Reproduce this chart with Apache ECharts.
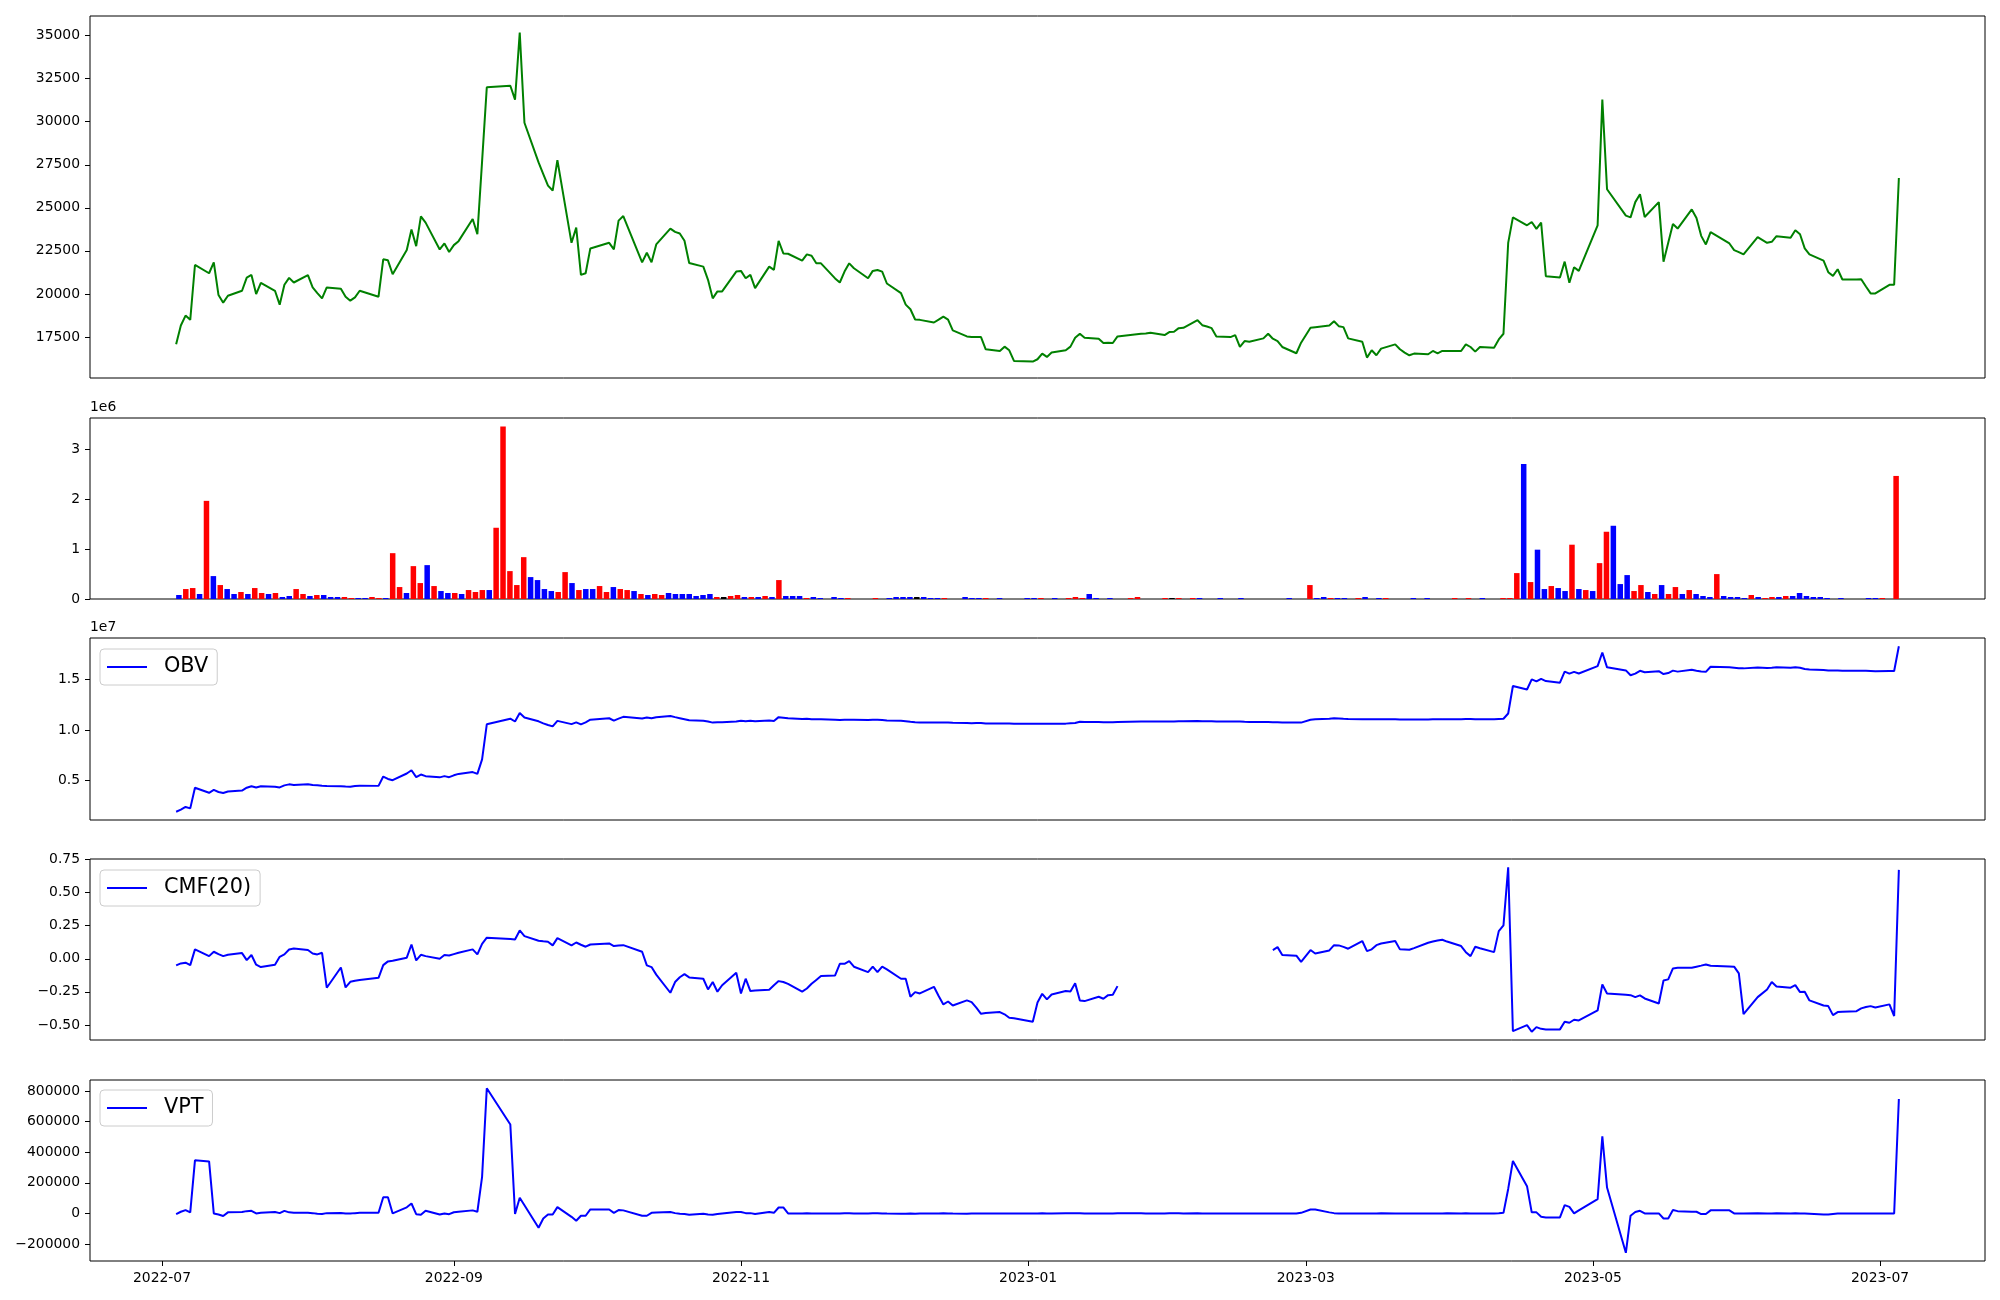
<!DOCTYPE html>
<html><head><meta charset="utf-8">
<script src="https://cdn.jsdelivr.net/npm/echarts@6/dist/echarts.min.js"></script>
<style>html,body{margin:0;padding:0;background:#fff}#c{width:2000px;height:1300px}</style>
</head><body><div id="c"></div>
<script>
// ---------------- data ----------------
const firstDay = '2022-07-04';
const lastDay = '2023-07-05';
const marketHolidays = ['2022-08-15','2022-09-09','2022-09-12','2022-10-03','2022-10-10','2022-12-30',
  '2023-01-23','2023-01-24','2023-03-01','2023-05-01','2023-05-05','2023-05-29','2023-06-06'];
const dateTickLabels = ['2022-07','2022-09','2022-11','2023-01','2023-03','2023-05','2023-07'];
const priceTicks = [17500,20000,22500,25000,27500,30000,32500,35000];
const volumeTicks = [0,1,2,3];          // x 1e6
const obvTicks = [5,10,15];             // millions (labels x 1e7)
const cmfTicks = [-0.5,-0.25,0,0.25,0.5,0.75];
const vptTicks = [-200000,0,200000,400000,600000,800000];

const closePrice = [17071,18166,18742,18493,21681,21200,21835,19933,19492,19895,
20183,20951,21105,19990,20644,20183,19376,20529,20932,20663,
21086,20375,20049,19741,20375,20298,19837,19607,19799,20183,
19837,22008,21950,21143,22546,23737,22777,24505,24140,22584,
22930,22431,22834,23065,24351,23468,27700,32000,32093,31286,
35186,29942,27636,26963,26292,26004,27771,22969,23852,21105,
21201,22642,22969,22584,24255,24524,21835,22392,21835,22873,
23795,23602,23506,23084,21797,21585,20817,19741,20145,20145,
21297,21336,20913,21105,20337,21585,21393,23084,22354,22334,
21931,22296,22219,21777,21777,20900,20663,21297,21777,21489,
20913,21336,21393,21297,20605,20049,19376,19107,18512,18493,
18339,18512,18685,18512,17878,17532,17494,17494,17494,16783,
16687,16937,16725,16110,16072,16206,16533,16341,16591,16725,
16937,17455,17686,17455,17398,17148,17167,17148,17532,17680,
17705,17744,17609,17782,17801,18012,18032,18473,18185,18108,
18012,17532,17494,17609,16918,17263,17225,17417,17686,17398,
17263,16918,16552,17167,18032,18070,18166,18416,18128,18070,
17417,17225,16302,16725,16437,16821,17071,16783,16591,16437,
16533,16495,16687,16552,16687,16687,16687,17071,16917,16648,
16917,16879,17359,17686,22968,24448,23987,24179,23775,24140,
21028,20951,21874,20644,21547,21336,23987,31286,26080,24544,
24448,25331,25792,24467,25331,21874,22968,24063,23795,24909,
24409,23372,22872,23583,22930,22546,22431,22296,23295,22968,
23026,23353,23257,23698,23468,22642,22296,21931,21259,21047,
21432,20836,20836,20855,20433,20029,20029,20529,20529,26734];

const volumeMillions = [0.08,0.20,0.22,0.10,1.97,0.46,0.28,0.20,0.10,0.14,
0.10,0.22,0.12,0.10,0.12,0.04,0.06,0.20,0.10,0.06,
0.08,0.08,0.04,0.04,0.04,0.02,0.02,0.02,0.04,0.02,
0.02,0.92,0.24,0.12,0.66,0.32,0.68,0.26,0.16,0.12,
0.12,0.10,0.18,0.14,0.18,0.18,1.43,3.46,0.56,0.28,
0.84,0.44,0.38,0.20,0.16,0.14,0.54,0.32,0.18,0.20,
0.20,0.26,0.14,0.24,0.20,0.18,0.16,0.10,0.08,0.10,
0.08,0.12,0.10,0.10,0.10,0.06,0.08,0.10,0.04,0.04,
0.06,0.08,0.04,0.04,0.04,0.06,0.04,0.38,0.06,0.06,
0.06,0.02,0.04,0.02,0,0.04,0.02,0.02,0,0,
0,0.02,0,0.02,0.04,0.04,0.04,0.04,0.04,0.02,
0.02,0.02,0,0,0.04,0.02,0.02,0.02,0,0.02,
0,0,0,0.02,0.02,0.02,0,0.02,0,0.02,
0.04,0.02,0.10,0.02,0,0.02,0,0,0.02,0.04,
0,0,0,0.02,0.02,0.02,0,0.02,0.02,0,
0,0.02,0,0,0.02,0,0,0,0,0,
0,0.02,0,0,0.28,0.02,0.04,0.02,0.02,0.02,
0,0.02,0.04,0,0.02,0.02,0,0,0,0.02,
0,0.02,0,0,0,0.02,0,0.02,0,0.02,
0,0,0.02,0.02,0.52,2.71,0.34,0.99,0.20,0.26,
0.22,0.16,1.09,0.20,0.18,0.16,0.72,1.35,1.47,0.30,
0.48,0.16,0.28,0.14,0.10,0.28,0.10,0.24,0.10,0.18,
0.10,0.06,0.04,0.50,0.06,0.04,0.04,0.02,0.08,0.04,
0.02,0.04,0.04,0.06,0.06,0.12,0.06,0.04,0.04,0.02,
0,0.02,0,0,0,0.02,0.02,0.02,0,2.47];

// r = red bar, b = blue bar, k = black bar (one letter per trading day)
const volumeBarColorCodes =
 'brrbrbrbbr' + 'brrbrbbrrb' + 'rbbbrrbbrr' + 'brrbrrbrbb' + 'rbrrrbrrrr' +
 'rbbbbrrbrb' + 'brrbrrbrbr' + 'rbbbbbbbrk' + 'rrbrbrbrbb' + 'brbbbbbrbb' +
 'brbbbbbkbb' + 'brbbbbbrbb' + 'bbbbbrbbbr' + 'rrbbbbbbrr' + 'bbbrkrbrbb' +
 'bbbbbbbbbb' + 'bbbbrbbrbb' + 'brbbbrbbbb' + 'bbbbbrbrbb' + 'bbrrrbrbbr' +
 'bbrbrbrrbb' + 'brrbrbrrbr' + 'bbbrbbbbrb' + 'rrbrbbbbbb' + 'bbbbbbbrbr';

const obvMillions = [1.93,2.13,2.40,2.26,4.29,3.80,4.08,3.88,3.78,3.92,
4.02,4.30,4.45,4.32,4.44,4.40,4.33,4.53,4.63,4.57,
4.65,4.57,4.53,4.49,4.47,4.44,4.41,4.39,4.47,4.50,
4.48,5.40,5.16,5.04,5.70,6.02,5.34,5.60,5.44,5.32,
5.44,5.34,5.52,5.66,5.84,5.66,7.09,10.55,11.11,10.83,
11.67,11.23,10.85,10.65,10.49,10.35,10.89,10.57,10.75,10.55,
10.75,11.01,11.15,10.91,11.11,11.29,11.13,11.23,11.15,11.25,
11.38,11.26,11.16,11.06,10.96,10.90,10.82,10.72,10.76,10.76,
10.82,10.90,10.86,10.90,10.86,10.92,10.88,11.26,11.20,11.14,
11.08,11.10,11.06,11.04,11.04,11.00,10.98,11.00,11.00,11.00,
10.98,11.00,11.00,10.98,10.94,10.90,10.86,10.80,10.76,10.74,
10.72,10.74,10.74,10.74,10.70,10.68,10.66,10.68,10.68,10.64,
10.64,10.64,10.64,10.62,10.60,10.62,10.62,10.60,10.60,10.62,
10.66,10.68,10.80,10.78,10.78,10.76,10.76,10.76,10.78,10.82,
10.82,10.82,10.82,10.84,10.84,10.86,10.86,10.88,10.86,10.86,
10.86,10.84,10.84,10.84,10.82,10.80,10.79,10.78,10.77,10.76,
10.75,10.73,10.72,10.72,11.00,11.05,11.10,11.15,11.13,11.10,
11.08,11.06,11.05,11.04,11.04,11.05,11.04,11.03,11.02,11.02,
11.02,11.03,11.04,11.04,11.05,11.06,11.06,11.07,11.07,11.06,
11.06,11.06,11.08,11.10,11.62,14.33,13.99,14.98,14.78,15.04,
14.82,14.66,15.75,15.55,15.73,15.57,16.29,17.64,16.17,15.87,
15.39,15.55,15.83,15.69,15.79,15.51,15.61,15.85,15.75,15.93,
15.83,15.77,15.73,16.23,16.17,16.13,16.09,16.07,16.15,16.11,
16.13,16.17,16.13,16.19,16.13,16.01,15.95,15.91,15.87,15.85,
15.85,15.83,15.83,15.83,15.83,15.81,15.79,15.81,15.81,18.25];

const cmf20 = [-0.050,-0.035,-0.030,-0.048,0.071,0.020,0.053,0.035,0.020,0.030,
0.043,-0.010,0.028,-0.045,-0.063,-0.045,0.015,0.033,0.070,0.078,
0.066,0.040,0.033,0.045,-0.219,-0.066,-0.217,-0.174,-0.166,-0.160,
-0.144,-0.048,-0.020,-0.015,0.008,0.108,-0.013,0.030,0.020,0.000,
0.028,0.025,0.035,0.045,0.071,0.033,0.113,0.159,0.150,0.146,
0.214,0.171,0.136,0.132,0.129,0.101,0.156,0.101,0.123,0.106,
0.091,0.108,0.116,0.096,0.100,0.103,0.053,-0.050,-0.063,-0.120,
-0.257,-0.176,-0.140,-0.116,-0.141,-0.151,-0.232,-0.176,-0.249,-0.200,
-0.106,-0.262,-0.151,-0.244,-0.240,-0.234,-0.200,-0.169,-0.176,-0.190,
-0.249,-0.225,-0.189,-0.160,-0.131,-0.126,-0.038,-0.038,-0.018,-0.060,
-0.101,-0.060,-0.101,-0.060,-0.080,-0.151,-0.151,-0.287,-0.252,-0.262,
-0.212,-0.282,-0.345,-0.323,-0.353,-0.315,-0.328,-0.370,-0.416,-0.410,
-0.403,-0.420,-0.446,-0.450,-0.476,-0.330,-0.265,-0.307,-0.270,-0.244,
-0.247,-0.186,-0.315,-0.320,-0.287,-0.302,-0.275,-0.272,-0.207,null,
null,null,null,null,null,null,null,null,null,null,
null,null,null,null,null,null,null,null,null,0.066,
0.088,0.028,0.023,-0.023,0.066,0.040,0.063,0.103,0.101,0.090,
0.076,0.134,0.058,0.071,0.103,0.115,0.134,0.071,0.070,0.068,
0.080,0.121,0.130,0.138,0.144,0.130,0.096,0.050,0.020,0.091,
0.080,0.050,0.209,0.252,0.692,-0.547,-0.502,-0.552,-0.517,-0.530,
-0.534,-0.534,-0.476,-0.484,-0.461,-0.466,-0.391,-0.194,-0.262,-0.272,
-0.275,-0.290,-0.277,-0.300,-0.338,-0.164,-0.156,-0.073,-0.068,-0.068,
-0.060,-0.052,-0.043,-0.053,-0.058,-0.060,-0.111,-0.418,-0.290,-0.232,
-0.176,-0.209,-0.219,-0.199,-0.252,-0.249,-0.315,-0.353,-0.358,-0.426,
-0.403,-0.400,-0.396,-0.375,-0.365,-0.358,-0.368,-0.345,-0.433,0.672];

const vpt = [-4000,11000,22000,7000,347000,340000,0,-7000,-17000,7000,
9000,15000,17000,0,4000,9000,2000,17000,7000,4000,
4000,2000,-2000,-3000,2000,3000,0,-1000,2000,4000,
4000,106000,106000,0,40000,65000,-5000,-8000,18000,-7000,
0,-5000,8000,11000,20000,11000,239000,818000,581000,-4000,
102000,54000,-93000,-33000,-7000,-7000,41000,-22000,-48000,-15000,
-15000,26000,26000,4000,22000,20000,-15000,-15000,4000,6000,
9000,2000,-2000,-4000,-8000,-2000,-7000,-9000,-4000,0,
9000,9000,2000,2000,-3000,9000,4000,39000,39000,0,
0,1000,0,-1000,0,-1000,-1000,1000,1000,0,
0,1000,1000,0,-1000,-2000,-2000,-1000,-2000,-1000,
-1000,0,1000,0,-1000,-2000,-1000,0,0,-1000,
-1000,0,0,-1000,-1000,0,1000,0,0,1000,
1000,2000,1000,-1000,0,-1000,0,0,1000,1000,
0,0,0,1000,1000,1000,0,1000,0,0,
0,-1000,0,0,-1000,0,0,0,0,0,
0,-1000,0,4000,26000,26000,7000,2000,0,0,
-1000,0,-1000,0,0,1000,0,0,0,0,
0,0,0,0,0,1000,0,1000,0,0,
0,0,1000,4000,160000,343000,178000,7000,7000,-22000,
-26000,-26000,54000,43000,0,20000,93000,503000,169000,-257000,
-15000,9000,17000,0,0,-33000,-33000,22000,15000,11000,
11000,-4000,-4000,20000,20000,0,0,0,2000,0,
0,1000,0,1000,0,-1000,-2000,-7000,-7000,-3000,
-1000,0,0,0,0,0,0,0,0,748000];

// ---------------- helpers ----------------
const DAY = 86400000;
function parseDay(s){const p=s.split('-').map(Number);return Date.UTC(p[0],p[1]-1,p[2]||1);}
function tradingDays(){
  const hol = new Set(marketHolidays.map(parseDay));
  const out=[];
  for(let t=parseDay(firstDay);t<=parseDay(lastDay);t+=DAY){
    const wd=new Date(t).getUTCDay();
    if(wd===0||wd===6||hol.has(t)) continue;
    out.push(t);
  }
  return out;
}
const days = tradingDays();
function padRange(arr, frac){
  const v=arr.filter(x=>x!==null&&x!==undefined);
  const lo=Math.min(...v), hi=Math.max(...v), r=hi-lo;
  return [lo-frac*r, hi+frac*r];
}
const minus = s => String(s).replace('-', '\u2212');
const FONT = 'DejaVu Sans';
const FS = 13.9;

const xSpan = days[days.length-1]-days[0];
const xMin = days[0]-0.05*xSpan, xMax = days[days.length-1]+0.05*xSpan;
const dateTickValues = dateTickLabels.map(parseDay);

const nBars = volumeMillions.length;
const barSpan = (nBars-1+0.4)-(-0.4);
const barMin = -0.4-0.05*barSpan, barMax = nBars-1+0.4+0.05*barSpan;

const priceR = padRange(closePrice, 0.05);
const volMax = Math.max(...volumeMillions)*1.05;
const obvR = padRange(obvMillions, 0.05);
const cmfR = padRange(cmf20, 0.05);
const vptR = padRange(vpt, 0.05);

const L = 90, W = 1895;
const grids = [
  {left:L, top:16, width:W, height:362},
  {left:L, top:418, width:W, height:181},
  {left:L, top:638, width:W, height:182},
  {left:L, top:859, width:W, height:181},
  {left:L, top:1080, width:W, height:181}
].map(g=>Object.assign(g,{show:true,borderColor:'#000',borderWidth:1,backgroundColor:'#fff',outerBoundsMode:'none'}));

function yAxis(gi, range, ticks, fmt, name){
  const a = {
    type:'value', gridIndex:gi, position:'left', min:range[0], max:range[1], scale:true,
    axisLine:{show:false, onZero:false}, splitLine:{show:false},
    axisTick:{show:true, customValues:ticks, length:5, lineStyle:{color:'#000',width:1}},
    axisLabel:{show:true, customValues:ticks, formatter:fmt, margin:10, color:'#000', fontFamily:FONT, fontSize:FS}
  };
  if(name){
    a.name=name; a.nameLocation='end'; a.nameGap=4;
    a.nameTextStyle={align:'left',verticalAlign:'bottom',color:'#000',fontFamily:FONT,fontSize:FS};
  }
  return a;
}
function dateX(gi, showLabels){
  return {
    type:'value', gridIndex:gi, position:'bottom', min:xMin, max:xMax,
    axisLine:{show:false, onZero:false}, splitLine:{show:false},
    axisTick:{show:showLabels, customValues:dateTickValues, length:5, lineStyle:{color:'#000',width:1}},
    axisLabel:{show:showLabels, customValues:dateTickValues, margin:10, color:'#000', fontFamily:FONT, fontSize:FS,
      formatter:v=>{const d=new Date(v);return d.getUTCFullYear()+'-'+String(d.getUTCMonth()+1).padStart(2,'0');}}
  };
}
function legend(name, top){
  return {
    data:[name], left:100, top:top, orient:'horizontal',
    icon:'path://M0,0H40V2H0Z', itemWidth:42, itemHeight:2,
    padding:[5,9,5,7], borderColor:'#cccccc', borderWidth:1, borderRadius:4, backgroundColor:'#ffffff',
    textStyle:{fontFamily:FONT, fontSize:20.8, color:'#000', lineHeight:26, padding:[0,0,0,11]},
    selectedMode:false
  };
}
const colorMap = {r:'#ff0000', b:'#0000ff', k:'#000000'};

const option = {
  animation:false,
  backgroundColor:'#fff',
  grid: grids,
  legend:[legend('OBV',649), legend('CMF(20)',870), legend('VPT',1090)],
  xAxis:[
    dateX(0,false),
    {type:'value', gridIndex:1, position:'bottom', min:barMin, max:barMax, axisLine:{show:false, onZero:false}, axisTick:{show:false}, axisLabel:{show:false}, splitLine:{show:false}},
    dateX(2,false),
    dateX(3,false),
    dateX(4,true)
  ],
  yAxis:[
    yAxis(0, priceR, priceTicks, v=>String(v)),
    yAxis(1, [0,volMax], volumeTicks, v=>String(v), '1e6'),
    yAxis(2, obvR, obvTicks, v=>(v/10).toFixed(1), '1e7'),
    yAxis(3, cmfR, cmfTicks, v=>minus(v.toFixed(2))),
    yAxis(4, vptR, vptTicks, v=>minus(String(v)))
  ],
  series:[
    {type:'line', name:'Close', xAxisIndex:0, yAxisIndex:0, showSymbol:false, symbol:'none',
     lineStyle:{color:'#008000', width:2}, itemStyle:{color:'#008000'},
     data: days.map((t,i)=>[t, closePrice[i]])},
    {type:'bar', name:'Volume', xAxisIndex:1, yAxisIndex:1, barWidth:5.5,
     data: volumeMillions.map((v,i)=>({value:[i,v], itemStyle:{color:colorMap[volumeBarColorCodes[i]]}}))},
    {type:'line', name:'OBV', xAxisIndex:2, yAxisIndex:2, showSymbol:false, symbol:'none',
     lineStyle:{color:'#0000ff', width:2}, itemStyle:{color:'#0000ff'},
     data: days.map((t,i)=>[t, obvMillions[i]])},
    {type:'line', name:'CMF(20)', xAxisIndex:3, yAxisIndex:3, showSymbol:false, symbol:'none', connectNulls:false,
     lineStyle:{color:'#0000ff', width:2}, itemStyle:{color:'#0000ff'},
     data: days.map((t,i)=>[t, cmf20[i]===null?'-':cmf20[i]])},
    {type:'line', name:'VPT', xAxisIndex:4, yAxisIndex:4, showSymbol:false, symbol:'none',
     lineStyle:{color:'#0000ff', width:2}, itemStyle:{color:'#0000ff'},
     data: days.map((t,i)=>[t, vpt[i]])}
  ]
};
const chart = echarts.init(document.getElementById('c'), null, {renderer:'canvas', width:2000, height:1300});
chart.setOption(option);
</script>
</body></html>
